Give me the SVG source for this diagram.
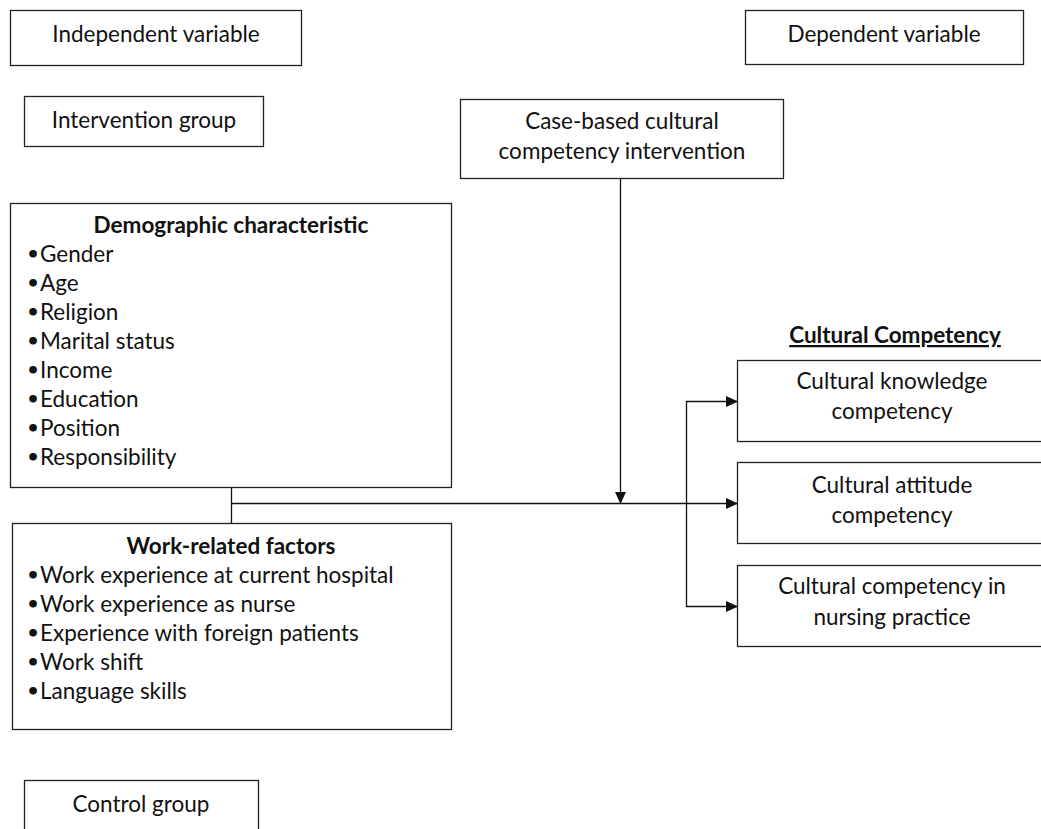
<svg xmlns="http://www.w3.org/2000/svg" width="1041" height="829" viewBox="0 0 1041 829">
<defs>
<style>
.box{fill:#fff;stroke:#222;stroke-width:1.3}
text{font-family:Lato,"Open Sans",sans-serif;font-size:22.5px;fill:#111}
.c{text-anchor:middle}
.b{font-weight:bold}
.bu{font-family:"DejaVu Sans",sans-serif;font-size:22px;font-weight:bold}
.ln{stroke:#111;stroke-width:1.3;fill:none}
</style>
<marker id="ah" markerWidth="12" markerHeight="12" refX="11" refY="6" orient="auto" markerUnits="userSpaceOnUse" viewBox="0 0 12 12">
<path d="M0,0.5 L12,6 L0,11.5 z" fill="#111"/>
</marker>
</defs>
<rect width="1041" height="829" fill="#fff"/>
<g id="independent"><rect class="box" x="10.5" y="10.5" width="291" height="55"/><text class="c" x="156" y="42">Independent variable</text></g>
<g id="dependent"><rect class="box" x="745.5" y="10.5" width="278" height="54"/><text class="c" x="884" y="42">Dependent variable</text></g>
<g id="intervention"><rect class="box" x="24.5" y="96.5" width="239" height="50"/><text class="c" x="144" y="128">Intervention group</text></g>
<g id="casebased"><rect class="box" x="460.5" y="99.5" width="323" height="79"/><text class="c" x="622" y="129">Case-based cultural</text><text class="c" x="622" y="159">competency intervention</text></g>
<g id="demographic"><rect class="box" x="10.5" y="203.5" width="441" height="284"/>
<text class="c b" x="231" y="233">Demographic characteristic</text>
<text class="bu" x="26" y="262">•</text><text x="40" y="262">Gender</text>
<text class="bu" x="26" y="291">•</text><text x="40" y="291">Age</text>
<text class="bu" x="26" y="320">•</text><text x="40" y="320">Religion</text>
<text class="bu" x="26" y="349">•</text><text x="40" y="349">Marital status</text>
<text class="bu" x="26" y="378">•</text><text x="40" y="378">Income</text>
<text class="bu" x="26" y="407">•</text><text x="40" y="407">Education</text>
<text class="bu" x="26" y="436">•</text><text x="40" y="436">Position</text>
<text class="bu" x="26" y="465">•</text><text x="40" y="465">Responsibility</text>
</g>
<g id="work"><rect class="box" x="12.5" y="523.5" width="439" height="206"/>
<text class="c b" x="231" y="554">Work-related factors</text>
<text class="bu" x="26" y="583">•</text><text x="40" y="583">Work experience at current hospital</text>
<text class="bu" x="26" y="612">•</text><text x="40" y="612">Work experience as nurse</text>
<text class="bu" x="26" y="641">•</text><text x="40" y="641">Experience with foreign patients</text>
<text class="bu" x="26" y="670">•</text><text x="40" y="670">Work shift</text>
<text class="bu" x="26" y="699">•</text><text x="40" y="699">Language skills</text>
</g>
<g id="control"><rect class="box" x="24.5" y="780.5" width="234" height="60"/><text class="c" x="141" y="812">Control group</text></g>
<g id="header"><text class="c b" x="895" y="343" text-decoration="underline">Cultural Competency</text></g>
<g id="knowledge"><rect class="box" x="737.5" y="360.5" width="320" height="81"/><text class="c" x="892" y="389">Cultural knowledge</text><text class="c" x="892" y="419">competency</text></g>
<g id="attitude"><rect class="box" x="737.5" y="462.5" width="320" height="81"/><text class="c" x="892" y="493">Cultural attitude</text><text class="c" x="892" y="523">competency</text></g>
<g id="practice"><rect class="box" x="737.5" y="565.5" width="320" height="81"/><text class="c" x="892" y="594">Cultural competency in</text><text class="c" x="892" y="625">nursing practice</text></g>
<g id="connectors">
<path class="ln" d="M231.5,487 V523"/>
<path class="ln" d="M231.5,503.5 H737" marker-end="url(#ah)"/>
<path class="ln" d="M620.5,178 V503" marker-end="url(#ah)"/>
<path class="ln" d="M686.5,401.5 V606.5"/>
<path class="ln" d="M686,401.5 H737" marker-end="url(#ah)"/>
<path class="ln" d="M686,606.5 H737" marker-end="url(#ah)"/>
</g>
</svg>
